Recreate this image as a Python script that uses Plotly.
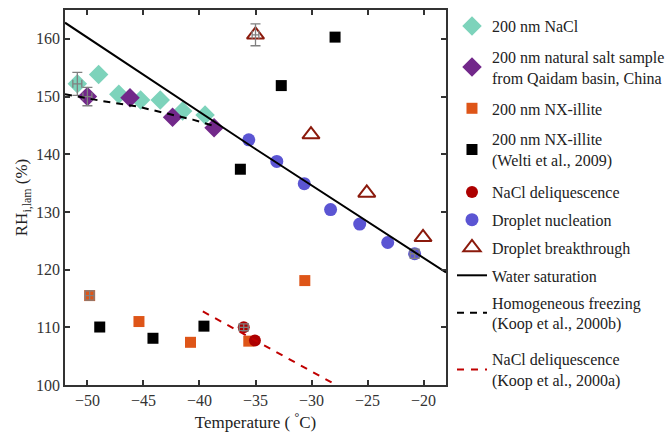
import plotly.graph_objects as go

# ---------------- data ----------------
nacl_T = [-50.9, -49.0, -47.2, -45.25, -43.5, -41.5, -39.5]
nacl_RH = [152.2, 153.8, 150.4, 149.4, 149.4, 147.5, 146.8]
nacl_T_err = [0.4, None, None, None, None, None, None]
nacl_RH_err = [2.0, None, None, None, None, None, None]

natural_T = [-50.0, -46.2, -42.4, -38.7]
natural_RH = [150.0, 149.8, 146.4, 144.6]
natural_T_err = [0.4, None, None, None]
natural_RH_err = [1.6, None, None, None]

illite_T = [-49.8, -45.4, -40.8, -35.6, -30.6]
illite_RH = [115.5, 111.0, 107.4, 107.6, 118.1]
illite_T_err = [0.4, None, None, None, None]
illite_RH_err = [0.8, None, None, None, None]

welti_T = [-48.9, -44.15, -39.6, -36.35, -32.7, -27.9]
welti_RH = [110.05, 108.1, 110.2, 137.4, 151.9, 160.3]

deliq_T = [-36.05, -35.05]
deliq_RH = [110.0, 107.7]
deliq_T_err = [0.4, None]
deliq_RH_err = [0.6, None]

nucl_T = [-35.6, -33.1, -30.65, -28.3, -25.7, -23.2, -20.8]
nucl_RH = [142.5, 138.75, 134.9, 130.4, 127.9, 124.7, 122.75]
nucl_T_err = [None, None, None, None, None, None, 0.4]
nucl_RH_err = [None, None, None, None, None, None, 0.8]

break_T = [-35.0, -30.05, -25.07, -20.05]
break_RH = [160.7, 143.4, 133.3, 125.6]
break_T_err = [0.3, None, None, None]
break_RH_err = [1.9, None, None, None]

watsat_T = [-52.0, -35.0, -18.0]
watsat_RH = [162.8, 140.9, 119.5]

homog_T = [-52.0, -48.6, -45.6, -43.6, -40.6, -38.5]
homog_RH = [150.4, 149.2, 148.3, 147.4, 146.0, 144.8]

koop_T = [-39.7, -27.8]
koop_RH = [112.75, 100.0]

x_ticks = [-50, -45, -40, -35, -30, -25, -20]
y_ticks = [100, 110, 120, 130, 140, 150, 160]

FONT = "Liberation Serif"
ERR_COLOR = "#808080"

fig = go.Figure()


def add_points(T, RH, name, marker, legend, group, T_err=None, RH_err=None):
    fig.add_trace(go.Scatter(x=T, y=RH, mode="markers", name=name, marker=marker,
                             legend=legend, legendgroup=group))
    if T_err is not None:
        idx = [i for i in range(len(T)) if RH_err[i] is not None]
        fig.add_trace(go.Scatter(
            x=[T[i] for i in idx], y=[RH[i] for i in idx], mode="markers",
            marker=dict(size=1, opacity=0), showlegend=False, hoverinfo="skip",
            legend=legend, legendgroup=group,
            error_x=dict(type="data", array=[T_err[i] for i in idx], color=ERR_COLOR,
                         thickness=1.3, width=4),
            error_y=dict(type="data", array=[RH_err[i] for i in idx], color=ERR_COLOR,
                         thickness=1.3, width=5)))


add_points(nacl_T, nacl_RH, "200 nm NaCl",
           dict(symbol="diamond", size=15, color="#7dd3bb"), "legend", "a",
           nacl_T_err, nacl_RH_err)
add_points(natural_T, natural_RH, "200 nm natural salt sample<br>from Qaidam basin, China",
           dict(symbol="diamond", size=15, color="#72288a"), "legend", "b",
           natural_T_err, natural_RH_err)
add_points(illite_T, illite_RH, "200 nm NX-illite",
           dict(symbol="square", size=11, color="#de5518"), "legend", "c",
           illite_T_err, illite_RH_err)
add_points(welti_T, welti_RH, "200 nm NX-illite<br>(Welti et al., 2009)",
           dict(symbol="square", size=11, color="#000000"), "legend", "d")
add_points(deliq_T, deliq_RH, "NaCl deliquescence",
           dict(symbol="circle", size=12, color="#ad0000"), "legend2", "e",
           deliq_T_err, deliq_RH_err)
add_points(nucl_T, nucl_RH, "Droplet nucleation",
           dict(symbol="circle", size=13, color="#5b55d3"), "legend2", "f",
           nucl_T_err, nucl_RH_err)
add_points(break_T, break_RH, "Droplet breakthrough",
           dict(symbol="triangle-up-open", size=15, color="#8b1a0c",
                line=dict(width=2, color="#8b1a0c")), "legend2", "g",
           break_T_err, break_RH_err)

fig.add_trace(go.Scatter(x=watsat_T, y=watsat_RH, mode="lines", name="Water saturation",
                         line=dict(color="#000000", width=2), legend="legend2", legendgroup="h"))
fig.add_trace(go.Scatter(x=homog_T, y=homog_RH, mode="lines",
                         name="Homogeneous freezing<br>(Koop et al., 2000b)",
                         line=dict(color="#000000", width=2, dash="7px,6px"),
                         legend="legend3", legendgroup="i"))
fig.add_trace(go.Scatter(x=koop_T, y=koop_RH, mode="lines",
                         name="NaCl deliquescence<br>(Koop et al., 2000a)",
                         line=dict(color="#c00000", width=2, dash="7px,7px"),
                         legend="legend3", legendgroup="j"))

axis_common = dict(showline=True, linecolor="#333333", linewidth=1.8, mirror="ticks",
                   ticks="inside", ticklen=5, tickwidth=1.5, tickcolor="#333333",
                   showgrid=False, zeroline=False, automargin=False,
                   tickfont=dict(family=FONT, size=16, color="#333333"))

legend_common = dict(font=dict(family=FONT, size=16, color="#222222"),
                     bgcolor="rgba(0,0,0,0)", xanchor="left", yanchor="top",
                     itemwidth=30, traceorder="grouped")

fig.update_layout(
    width=667, height=435,
    margin=dict(l=65, r=221, t=10, b=50, autoexpand=False),
    plot_bgcolor="white", paper_bgcolor="white",
    font=dict(family=FONT, size=16, color="#222222"),
    xaxis=dict(range=[-52, -18], tickvals=x_ticks,
               title=dict(text="Temperature ( <sup>°</sup>C)", font=dict(family=FONT, size=17), standoff=8),
               **axis_common),
    yaxis=dict(range=[100, 165], tickvals=y_ticks,
               title=dict(text="RH<sub>i,lam</sub> (%)", font=dict(family=FONT, size=17), standoff=4),
               **axis_common),
    legend=dict(x=1.0157, y=1.0027, tracegroupgap=7, **legend_common),
    legend2=dict(x=1.0157, y=0.56, tracegroupgap=4, **legend_common),
    legend3=dict(x=1.0157, y=0.2653, tracegroupgap=12, **legend_common),
)

# remove the browser's default 8px body margin so the figure fills the window
fig.write_html("out.html", config={"displayModeBar": False},
               post_script="document.body.style.margin='0px';")
